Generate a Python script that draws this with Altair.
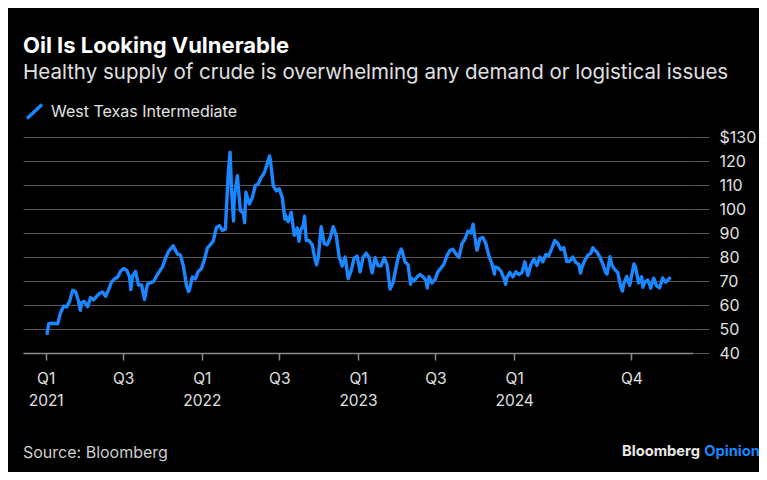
import altair as alt
import pandas as pd

# ---------------- data (WTI, USD per barrel) ----------------
dates_2021 = ["2021-01-04","2021-01-08","2021-01-15","2021-01-22","2021-01-29","2021-02-05","2021-02-12",
              "2021-02-19","2021-02-26","2021-03-05","2021-03-12","2021-03-19","2021-03-23","2021-03-26",
              "2021-04-01","2021-04-09","2021-04-16","2021-04-23","2021-04-30","2021-05-07","2021-05-14",
              "2021-05-21","2021-05-28","2021-06-04","2021-06-11","2021-06-18","2021-06-25","2021-07-02",
              "2021-07-09","2021-07-16","2021-07-19","2021-07-23","2021-07-30","2021-08-06","2021-08-13",
              "2021-08-20","2021-08-27","2021-09-03","2021-09-10","2021-09-17","2021-09-24","2021-10-01",
              "2021-10-08","2021-10-15","2021-10-22","2021-10-26","2021-10-29","2021-11-05","2021-11-12",
              "2021-11-19","2021-11-26","2021-12-01","2021-12-03","2021-12-10","2021-12-17","2021-12-23",
              "2021-12-31"]
values_2021 = [47.6,52.2,52.4,52.3,52.2,56.9,59.5,
               59.2,61.5,66.1,65.6,61.4,57.8,61.0,
               61.5,59.3,63.1,62.1,63.6,64.9,65.4,
               63.6,66.3,69.6,70.9,71.6,74.1,75.2,
               74.6,71.8,66.4,72.1,74.0,68.3,68.4,
               62.3,68.7,69.3,69.7,72.0,74.0,75.9,
               79.4,82.3,83.8,84.7,83.6,81.3,80.8,
               76.1,68.2,65.6,66.3,71.7,70.9,73.8,
               75.2]

dates_2022 = ["2022-01-07","2022-01-14","2022-01-21","2022-01-28","2022-02-04","2022-02-11","2022-02-18",
              "2022-02-25","2022-03-04","2022-03-08","2022-03-11","2022-03-16","2022-03-18","2022-03-25",
              "2022-04-01","2022-04-08","2022-04-11","2022-04-14","2022-04-22","2022-04-29","2022-05-06",
              "2022-05-13","2022-05-20","2022-05-27","2022-06-03","2022-06-08","2022-06-10","2022-06-17",
              "2022-06-24","2022-07-01","2022-07-08","2022-07-14","2022-07-15","2022-07-22","2022-07-29",
              "2022-08-05","2022-08-12","2022-08-16","2022-08-19","2022-08-26","2022-08-29","2022-09-02",
              "2022-09-09","2022-09-16","2022-09-23","2022-09-26","2022-09-30","2022-10-07","2022-10-14",
              "2022-10-21","2022-10-28","2022-11-04","2022-11-11","2022-11-18","2022-11-25","2022-12-02",
              "2022-12-09","2022-12-16","2022-12-23","2022-12-30"]
values_2022 = [78.9,83.8,85.1,86.8,92.3,93.1,91.1,
               91.6,115.7,123.7,109.3,95.0,104.7,113.9,
               99.3,98.3,94.3,107.0,102.1,104.7,109.8,
               110.5,113.2,115.1,118.9,122.1,120.7,109.6,
               107.6,108.4,104.8,95.8,97.6,94.7,98.6,
               89.0,92.1,86.5,90.8,93.1,97.0,86.9,
               86.8,85.1,78.7,76.7,79.5,92.6,85.6,
               85.1,87.9,92.6,89.0,80.1,76.3,80.0,
               71.0,74.3,79.6,80.3]

dates_2023 = ["2023-01-06","2023-01-13","2023-01-20","2023-01-27","2023-02-03","2023-02-10","2023-02-17",
              "2023-02-24","2023-03-03","2023-03-10","2023-03-17","2023-03-24","2023-03-31","2023-04-06",
              "2023-04-12","2023-04-14","2023-04-21","2023-04-28","2023-05-04","2023-05-05","2023-05-12",
              "2023-05-19","2023-05-26","2023-06-02","2023-06-09","2023-06-12","2023-06-16","2023-06-23",
              "2023-06-30","2023-07-07","2023-07-14","2023-07-21","2023-07-28","2023-08-04","2023-08-11",
              "2023-08-18","2023-08-25","2023-09-01","2023-09-08","2023-09-15","2023-09-22","2023-09-27",
              "2023-09-29","2023-10-06","2023-10-13","2023-10-20","2023-10-27","2023-11-03","2023-11-10",
              "2023-11-16","2023-11-17","2023-11-24","2023-12-01","2023-12-08","2023-12-12","2023-12-15",
              "2023-12-22","2023-12-29"]
values_2023 = [73.8,79.9,81.6,79.7,73.4,79.7,76.3,
               76.3,79.7,76.7,66.7,69.3,75.7,80.7,
               83.3,82.5,77.9,76.8,68.6,71.3,70.0,
               71.7,72.7,71.7,70.2,67.1,71.8,69.2,
               70.6,73.9,75.4,77.1,80.6,82.8,83.2,
               81.3,79.8,85.6,87.5,90.8,90.0,93.7,
               90.8,82.8,87.7,88.1,85.5,80.5,77.2,
               72.9,75.9,75.5,74.1,71.2,68.6,71.4,
               73.6,71.7]

dates_2024 = ["2024-01-05","2024-01-12","2024-01-19","2024-01-26","2024-02-02","2024-02-09","2024-02-16",
              "2024-02-23","2024-03-01","2024-03-08","2024-03-15","2024-03-22","2024-03-28","2024-04-05",
              "2024-04-12","2024-04-19","2024-04-26","2024-05-03","2024-05-10","2024-05-17","2024-05-24",
              "2024-05-31","2024-06-04","2024-06-07","2024-06-14","2024-06-21","2024-06-28","2024-07-03",
              "2024-07-05","2024-07-12","2024-07-19","2024-07-26","2024-08-02","2024-08-05","2024-08-09",
              "2024-08-12","2024-08-16","2024-08-23","2024-08-30","2024-09-06","2024-09-10","2024-09-13",
              "2024-09-20","2024-09-27","2024-10-04","2024-10-07","2024-10-11","2024-10-18","2024-10-25",
              "2024-10-28","2024-11-01","2024-11-08","2024-11-13","2024-11-15","2024-11-22","2024-11-29",
              "2024-12-06","2024-12-13","2024-12-20","2024-12-27","2024-12-31"]
values_2024 = [73.8,72.7,73.4,78.0,72.3,76.8,79.2,
               76.5,80.0,78.0,81.0,80.6,83.2,86.9,
               85.7,83.1,83.9,78.1,78.3,80.0,77.7,
               77.0,73.3,75.5,78.5,80.7,81.5,83.9,
               83.2,82.2,80.1,77.2,73.5,72.9,76.8,
               80.1,76.7,74.8,73.6,67.7,65.8,68.7,
               71.9,68.2,74.4,77.1,75.6,69.2,71.8,
               67.4,69.5,70.4,68.4,67.0,71.2,68.0,
               67.2,71.3,69.5,70.6,71.7]

series_name = "West Texas Intermediate"
y_ticks = [40, 50, 60, 70, 80, 90, 100, 110, 120, 130]
x_tick_dates = [(2021, 1), (2021, 7), (2022, 1), (2022, 7), (2023, 1), (2023, 7), (2024, 1), (2024, 10)]

title_text = "Oil Is Looking Vulnerable"
subtitle_text = "Healthy supply of crude is overwhelming any demand or logistical issues"
source_text = "Source: Bloomberg"
brand_text = ["Bloomberg", "Opinion"]

# ---------------- chart ----------------
BLUE = "#1a86ff"
GRID = "#575757"
TEXT = "#e0e0e0"
FONT = "Inter"

df = pd.DataFrame({
    "date": dates_2021 + dates_2022 + dates_2023 + dates_2024,
    "price": values_2021 + values_2022 + values_2023 + values_2024,
})
df["series"] = series_name

x_values = [alt.DateTime(year=y, month=m, date=1, utc=True) for y, m in x_tick_dates]

line = alt.Chart(df).mark_line(strokeWidth=3.4, strokeJoin="round").encode(
    x=alt.X("date:T",
            scale=alt.Scale(type="utc",
                            domain=[alt.DateTime(year=2020, month=11, date=9, utc=True),
                                    alt.DateTime(year=2025, month=2, date=22, utc=True)]),
            axis=alt.Axis(values=x_values, title=None, grid=False,
                          labelExpr="utcmonth(datum.value) == 0 ? ['Q' + utcquarter(datum.value), '' + utcyear(datum.value)] : 'Q' + utcquarter(datum.value)",
                          tickSize=7, tickColor="#8a8a8a", tickWidth=1.5,
                          domain=True, domainColor="#8a8a8a", domainWidth=1.5,
                          labelPadding=11, labelLineHeight=22.5, labelBaseline="top",
                          labelFont=FONT, labelFontSize=15.5, labelColor=TEXT, labelAlign="center")),
    y=alt.Y("price:Q",
            scale=alt.Scale(domain=[40, 130], nice=False, zero=False),
            axis=alt.Axis(orient="right", values=y_ticks, title=None, grid=True,
                          gridColor=GRID, gridWidth=1, domain=False,
                          tickSize=16, tickColor=GRID, tickWidth=1,
                          labelPadding=10, labelFont=FONT, labelFontSize=16, labelColor=TEXT,
                          labelExpr="datum.value == 130 ? '$130' : datum.label")),
    color=alt.Color("series:N", scale=alt.Scale(range=[BLUE]),
                    legend=alt.Legend(orient="none", legendX=2, legendY=-35, title=None,
                                      symbolType="M-1,0.93L1,-0.93", symbolSize=225,
                                      symbolStrokeWidth=3.5, labelOffset=7, labelLimit=0,
                                      labelFont=FONT, labelFontSize=16, labelColor=TEXT)),
)

def label(text, x, y, size, color, weight="normal", align="left"):
    return alt.Chart(pd.DataFrame({"t": [text]})).mark_text(
        align=align, baseline="alphabetic", font=FONT, fontSize=size,
        fontWeight=weight, color=color
    ).encode(text="t:N", x=alt.value(x), y=alt.value(y))

chart = alt.layer(
    line,
    label(title_text, 0, -84, 22, "#ffffff", "bold"),
    label(subtitle_text, 0, -58, 20.5, TEXT),
    label(source_text, 0, 321, 16, "#cfcfcf"),
    label(brand_text[1], 737, 319, 14.7, BLUE, "bold", "right"),
    label(brand_text[0], 677, 319, 14.7, "#e8e8e8", "bold", "right"),
).properties(
    width=670, height=216, background="#000000",
    padding={"left": 15, "top": 129, "right": 66, "bottom": 119},
    autosize=alt.AutoSizeParams(type="none"),
).configure_view(stroke=None)

chart.save("out.html", embed_options={"renderer": "svg", "actions": False})
